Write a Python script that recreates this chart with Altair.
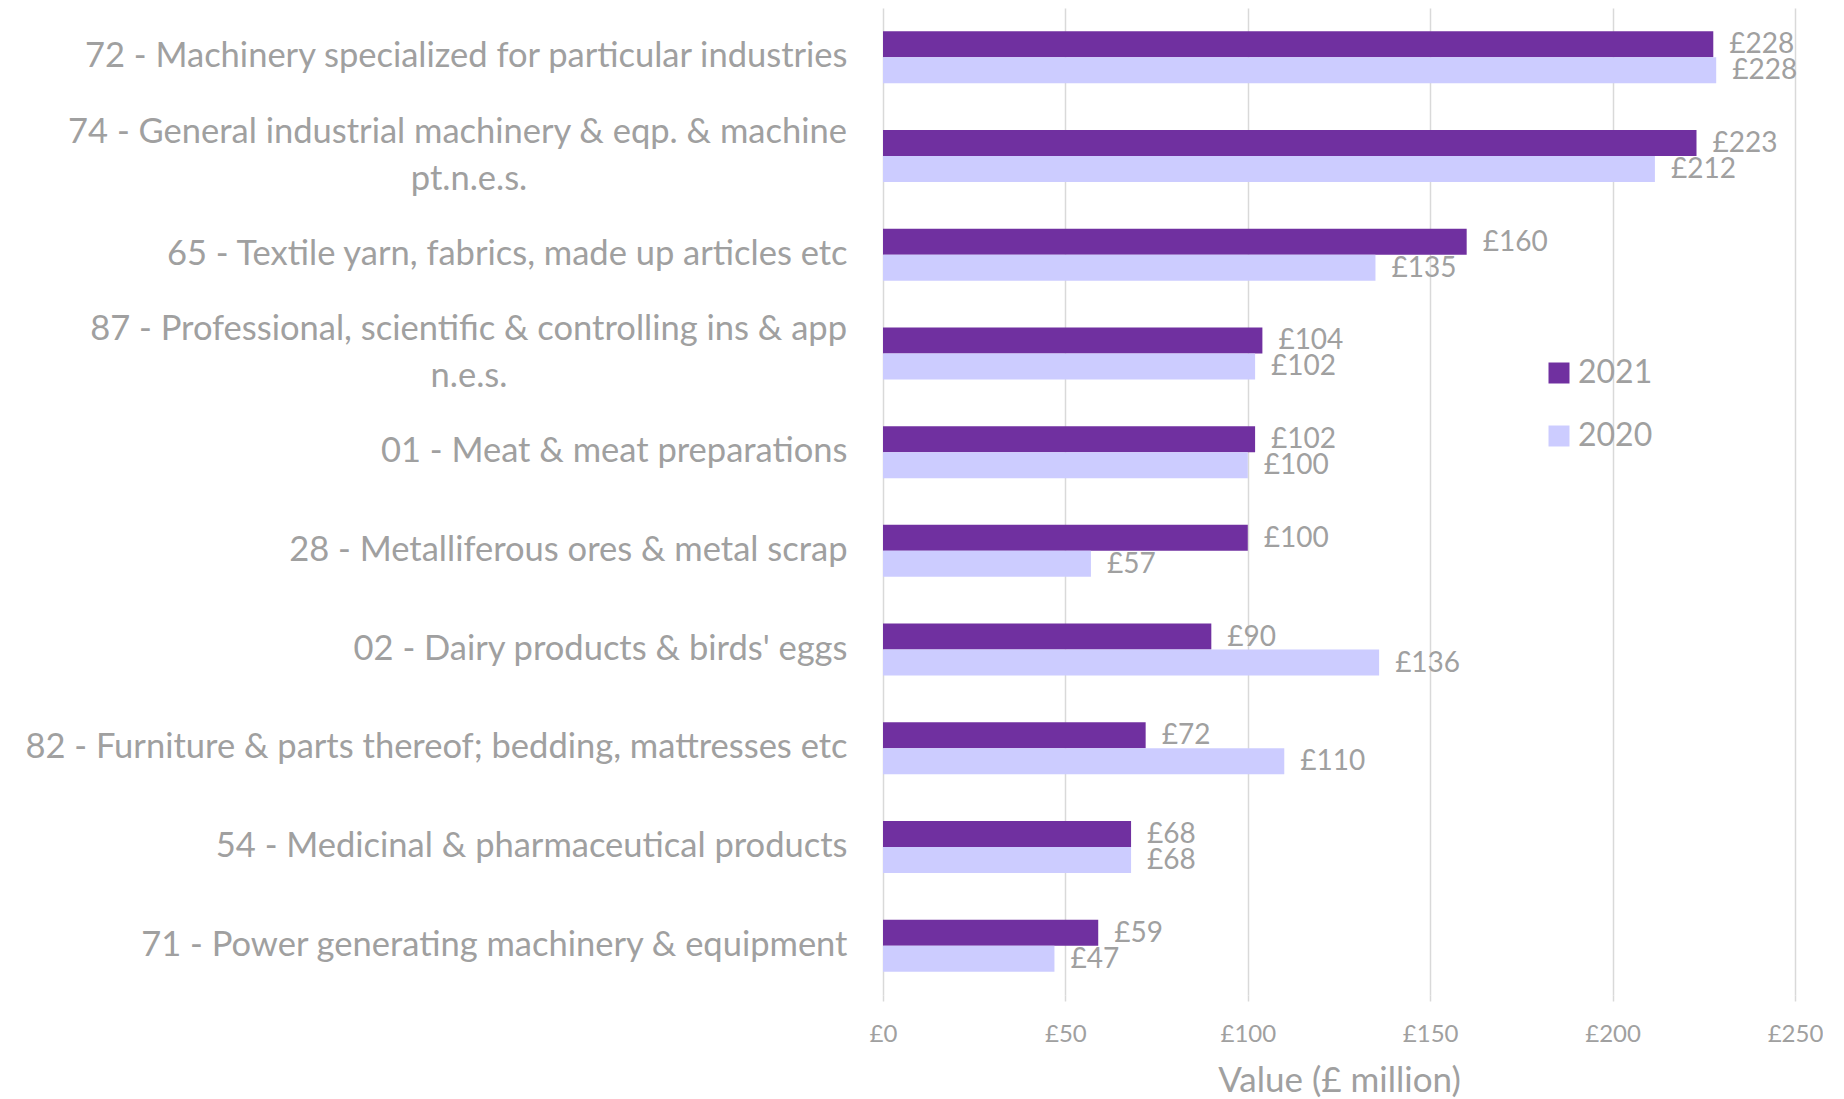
import altair as alt
import pandas as pd

categories = [
    "72 - Machinery specialized for particular industries",
    "74 - General industrial machinery & eqp. & machine\npt.n.e.s.",
    "65 - Textile yarn, fabrics, made up articles etc",
    "87 - Professional, scientific & controlling ins & app\nn.e.s.",
    "01 - Meat & meat preparations",
    "28 - Metalliferous ores & metal scrap",
    "02 - Dairy products & birds' eggs",
    "82 - Furniture & parts thereof; bedding, mattresses etc",
    "54 - Medicinal & pharmaceutical products",
    "71 - Power generating machinery & equipment",
]
values_2021 = [227.6, 223, 160, 104, 102, 100, 90, 72, 68, 59]
values_2020 = [228.4, 211.6, 135, 102, 100, 57, 136, 110, 68, 47]
years = ["2021", "2020"]
colors = ["#7030A0", "#CCCCFF"]
x_ticks = [0, 50, 100, 150, 200, 250]

rows = []
for c, a, b in zip(categories, values_2021, values_2020):
    rows.append({"category": c, "year": "2021", "value": a})
    rows.append({"category": c, "year": "2020", "value": b})
df = pd.DataFrame(rows)

wrapped = pd.DataFrame(
    [{"category": c, "line1": c.split("\n")[0], "line2": c.split("\n")[1]}
     for c in categories if "\n" in c]
)

FONT = "Lato"
GRAY = "#A0A0A0"
GRID = "#D9D9D9"
CAT_SIZE = 34.5

y_scale = alt.Scale(paddingInner=0.473, paddingOuter=0.2365)
y_enc = alt.Y(
    "category:N",
    sort=categories,
    scale=y_scale,
    axis=alt.Axis(
        title=None, domain=False, ticks=False, grid=False,
        labelFont=FONT, labelFontSize=CAT_SIZE, labelColor=GRAY,
        labelPadding=36, labelLimit=2000,
        labelAlign="right", labelBaseline="middle",
        labelExpr="indexof(datum.value, '\\n') >= 0 ? '' : datum.value",
        minExtent=875, maxExtent=875,
    ),
)
yoff = alt.YOffset("year:N", sort=years, scale=alt.Scale(paddingInner=0, paddingOuter=0))
x_scale = alt.Scale(domain=[0, 250], nice=False)

bars = alt.Chart(df).mark_bar().encode(
    y=y_enc,
    yOffset=yoff,
    x=alt.X(
        "value:Q", scale=x_scale,
        axis=alt.Axis(
            title="Value (£ million)", values=x_ticks, grid=True,
            gridColor=GRID, gridWidth=1.5, domain=False,
            ticks=True, tickSize=6, tickColor=GRID, tickWidth=1.5,
            labelExpr="'£' + format(datum.value, 'd')", labelFlush=False,
            labelFont=FONT, labelFontSize=24, labelColor=GRAY, labelPadding=21,
            titleFont=FONT, titleFontSize=35, titleFontWeight="normal",
            titleColor=GRAY, titlePadding=17,
        ),
    ),
    color=alt.Color(
        "year:N",
        scale=alt.Scale(domain=years, range=colors),
        legend=alt.Legend(
            title=None, orient="none", legendX=660, legendY=349,
            symbolType="square", symbolSize=441, symbolStrokeWidth=0,
            symbolOpacity=1,
            labelFont=FONT, labelFontSize=32, labelColor=GRAY,
            labelOffset=3, rowPadding=31, padding=0,
        ),
    ),
)

labels = alt.Chart(df).transform_calculate(
    label="'£' + format(datum.value, '.0f')"
).mark_text(
    align="left", baseline="middle", dx=16, dy=1,
    font=FONT, fontSize=28, color=GRAY,
).encode(
    y=alt.Y("category:N", sort=categories),
    yOffset=alt.YOffset("year:N", sort=years),
    x=alt.X("value:Q", scale=x_scale),
    text="label:N",
)

wrap_line1 = alt.Chart(wrapped).mark_text(
    align="right", baseline="middle", dy=-23.5,
    font=FONT, fontSize=CAT_SIZE, color=GRAY,
).encode(
    y=alt.Y("category:N", sort=categories),
    x=alt.value(-36),
    text="line1:N",
)
wrap_line2 = alt.Chart(wrapped).mark_text(
    align="center", baseline="middle", dy=23.5,
    font=FONT, fontSize=CAT_SIZE, color=GRAY,
).encode(
    y=alt.Y("category:N", sort=categories),
    x=alt.value(-414),
    text="line2:N",
)

chart = alt.layer(bars, labels, wrap_line1, wrap_line2).properties(
    width=912, height=987,
    padding={"left": 0, "top": 0, "right": 0, "bottom": 0},
    background="white",
).configure_view(stroke=None)

chart.save("out.html", embed_options={"renderer": "svg", "actions": False})
